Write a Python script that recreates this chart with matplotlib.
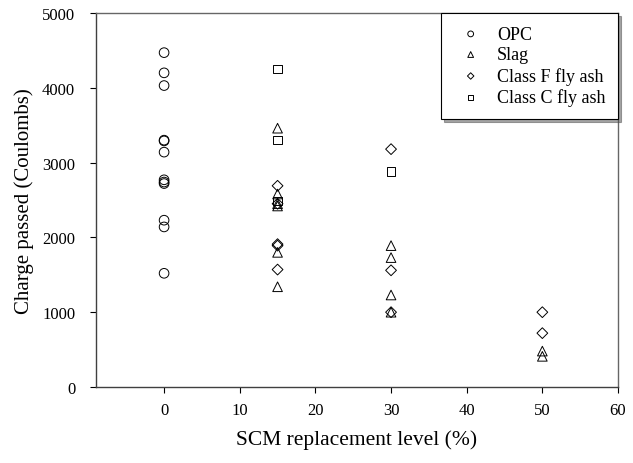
#!/usr/bin/env python3
# -*- coding: utf-8 -*-
"""Charge passed vs SCM replacement level scatter."""

import matplotlib
matplotlib.use("Agg")
import matplotlib.pyplot as plt

plt.rcParams["font.family"] = ["Liberation Serif", "DejaVu Serif"]

opc_x = [0] * 12
opc_y = [4470, 4200, 4030, 3300, 3290, 3140, 2770, 2740, 2720, 2230, 2140, 1520]

slag_x = [15, 15, 15, 15, 15, 15, 30, 30, 30, 30, 50, 50]
slag_y = [3460, 2580, 2450, 2420, 1800, 1340, 1890, 1730, 1230, 1000, 480, 410]

classf_x = [15, 15, 15, 15, 15, 30, 30, 30, 50, 50]
classf_y = [2690, 2450, 1910, 1890, 1570, 3180, 1560, 1000, 1000, 720]

classc_x = [15, 15, 15, 30]
classc_y = [4250, 3300, 2490, 2880]

series = [
    ("OPC", opc_x, opc_y, "o"),
    ("Slag", slag_x, slag_y, "^"),
    ("Class F fly ash", classf_x, classf_y, "D"),
    ("Class C fly ash", classc_x, classc_y, "s"),
]
sizes = {"o": 48, "^": 48, "D": 30, "s": 36}


def main() -> None:
    fig = plt.figure(figsize=(6.33, 4.64), dpi=100)
    ax = fig.add_axes([96 / 633, 1 - 388 / 464, (618 - 96) / 633, (388 - 14) / 464])

    for label, xs, ys, mk in series:
        ax.scatter(xs, ys, marker=mk, s=sizes[mk], facecolors="none",
                   edgecolors="black", linewidths=0.7, label=label)

    ax.set_xlim(-9, 60)
    ax.set_ylim(0, 5000)
    ax.set_xticks(range(0, 61, 10))
    ax.set_yticks(range(0, 5001, 1000))
    ax.tick_params(direction="out", length=4, width=0.8, labelsize=12, colors="black")
    ax.tick_params(axis="x", pad=7)
    ax.tick_params(axis="y", pad=11)
    for side in ["left", "bottom"]:
        ax.spines[side].set_color("0.25")
        ax.spines[side].set_linewidth(1.0)
    for side in ["top", "right"]:
        ax.spines[side].set_color("0.4")
        ax.spines[side].set_linewidth(1.0)

    ax.set_xlabel("SCM replacement level (%)", fontsize=15.5, labelpad=8)
    ax.set_ylabel("Charge passed (Coulombs)", fontsize=15, labelpad=6)

    leg = ax.legend(loc="upper right", borderaxespad=0.0, fontsize=13,
                    markerscale=0.6, frameon=True, fancybox=False, shadow=True,
                    handletextpad=0.5, borderpad=0.7, labelspacing=0.2,
                    handlelength=1.9)
    leg.get_frame().set_edgecolor("black")
    leg.get_frame().set_linewidth(0.8)

    fig.savefig("out.png", dpi=100)
    plt.close(fig)


if __name__ == "__main__":
    main()
